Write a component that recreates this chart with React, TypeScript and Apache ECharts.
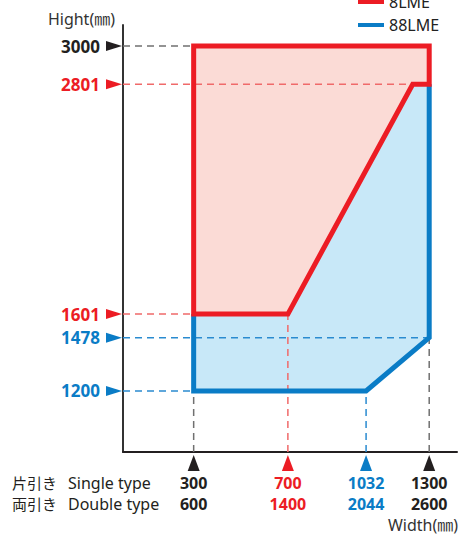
import React, { useEffect, useRef } from 'react';
import * as echarts from 'echarts';

// ---- data ----
const seriesNames = ['8LME', '88LME'];

const yMarkValues = [3000, 2801, 1601, 1478, 1200];
const yMarkModel = ['both', '8LME', '8LME', '88LME', '88LME'];
const yGuideEndWidth = [300, 1230, 300, 1300, 300];

const singleWidths = [300, 700, 1032, 1300];
const doubleWidths = [600, 1400, 2044, 2600];
const xMarkModel = ['both', '8LME', '88LME', 'both'];
const xGuideEndHeight = [1200, 1601, 1200, 1478];

const redWidths = [300, 300, 1300, 1300, 1230, 700];
const redHeights = [1601, 3000, 3000, 2801, 2801, 1601];
const blueWidths = [300, 300, 1032, 1300, 1300, 1230, 700];
const blueHeights = [1601, 1200, 1200, 1478, 2801, 2801, 1601];

const rowLabelsJa = ['片引き', '両引き'];
const rowLabelsEn = ['Single type', 'Double type'];

// ---- styles ----
const X_MIN = 0;
const X_MAX = 1418;
const Y_MIN = 881;
const Y_MAX = 3110;

const RED = '#EC1C24';
const BLUE = '#0A7CC6';
const DARK = '#231F20';
const RED_FILL = '#FBDBD6';
const BLUE_FILL = '#C8E8F8';
const RED_GUIDE = '#F06A6A';
const BLUE_GUIDE = '#2A8BD0';
const GREY_GUIDE = '#707070';
const FONT = '"Noto Sans", "Noto Sans CJK JP", sans-serif';
const ROW_H = 21;

const keyOf = (m: string) => (m === '8LME' ? 'r' : m === '88LME' ? 'b' : 'k');
const colorOf = (m: string) => (m === '8LME' ? RED : m === '88LME' ? BLUE : DARK);
const guideOf = (m: string) => (m === '8LME' ? RED_GUIDE : m === '88LME' ? BLUE_GUIDE : GREY_GUIDE);

const redPts = redWidths.map((w, i) => [w, redHeights[i]]);
const bluePts = blueWidths.map((w, i) => [w, blueHeights[i]]);
const blueOutline = bluePts.slice(0, 5);

const numRich = (size: number, lh?: number) => ({
  r: { color: RED, fontSize: size, fontWeight: 'bold', fontFamily: FONT, lineHeight: lh },
  b: { color: BLUE, fontSize: size, fontWeight: 'bold', fontFamily: FONT, lineHeight: lh },
  k: { color: DARK, fontSize: size, fontWeight: 'bold', fontFamily: FONT, lineHeight: lh },
});

function shapeSeries(name: string, points: number[][], kind: string, style: any, z: number, color: string) {
  return {
    type: 'custom',
    name,
    z,
    silent: true,
    itemStyle: { color },
    data: points,
    encode: { x: 0, y: 1 },
    renderItem: (params: any, api: any) => {
      if (params.dataIndex !== 0) return null;
      const p = points.map((pt) => api.coord(pt));
      return { type: kind, shape: { points: p }, style };
    },
  };
}

export default function App() {
  const ref = useRef<HTMLDivElement>(null);
  useEffect(() => {
    if (!ref.current) return;
    const chart = echarts.init(ref.current, undefined, { renderer: 'svg' });
    const option: any = {
      animation: false,
      backgroundColor: '#ffffff',
      grid: { left: 123, top: 25, width: 334, height: 427, outerBoundsMode: 'none', containLabel: false },
      legend: {
        data: [
          { name: seriesNames[0], itemStyle: { color: RED } },
          { name: seriesNames[1], itemStyle: { color: BLUE } },
        ],
        orient: 'vertical',
        left: 358,
        top: -8,
        itemWidth: 26,
        itemHeight: 4,
        itemGap: 3,
        icon: 'rect',
        padding: 0,
        selectedMode: false,
        textStyle: { fontSize: 16, color: '#222', lineHeight: 20, fontFamily: FONT },
      },
      xAxis: {
        type: 'value',
        min: X_MIN,
        max: X_MAX,
        splitLine: { show: false },
        axisTick: { show: false },
        axisLine: { show: true, onZero: false, lineStyle: { color: DARK, width: 2 } },
        axisLabel: {
          customValues: singleWidths,
          margin: 20,
          lineHeight: ROW_H,
          formatter: (v: number) => {
            const i = singleWidths.indexOf(v);
            const k = keyOf(xMarkModel[i]);
            return `{${k}|${v}}\n{${k}|${doubleWidths[i]}}`;
          },
          rich: numRich(16, ROW_H),
        },
      },
      yAxis: {
        type: 'value',
        min: Y_MIN,
        max: Y_MAX,
        name: 'Hight(㎜)',
        nameLocation: 'end',
        nameGap: 6,
        nameTextStyle: {
          align: 'right',
          verticalAlign: 'middle',
          padding: [0, 8, 0, 0],
          fontSize: 16,
          color: '#333',
          fontFamily: FONT,
        },
        splitLine: { show: false },
        axisTick: { show: false },
        axisLine: { show: true, onZero: false, lineStyle: { color: '#333', width: 2 } },
        axisLabel: {
          customValues: yMarkValues,
          margin: 23,
          formatter: (v: number) => {
            const i = yMarkValues.indexOf(v);
            return `{${keyOf(yMarkModel[i])}|${v}}`;
          },
          rich: numRich(17),
        },
      },
      graphic: [
        ...rowLabelsJa.map((t, i) => ({
          type: 'text',
          x: 12,
          y: 483 + i * ROW_H,
          style: { text: t, fontSize: 15, fill: DARK, fontFamily: FONT, align: 'left', verticalAlign: 'middle' },
        })),
        ...rowLabelsEn.map((t, i) => ({
          type: 'text',
          x: 68,
          y: 483 + i * ROW_H,
          style: { text: t, fontSize: 16, fill: DARK, fontFamily: FONT, align: 'left', verticalAlign: 'middle' },
        })),
        {
          type: 'text',
          x: 458,
          y: 525,
          style: { text: 'Width(㎜)', fontSize: 16, fill: '#333', fontFamily: FONT, align: 'right', verticalAlign: 'middle' },
        },
      ],
      series: [
        shapeSeries('88LME fill', bluePts, 'polygon', { fill: BLUE_FILL, stroke: 'none' }, 1, BLUE_FILL),
        shapeSeries('8LME fill', redPts, 'polygon', { fill: RED_FILL, stroke: 'none' }, 1, RED_FILL),
        {
          type: 'custom',
          name: 'y guides',
          z: 2,
          silent: true,
          data: yMarkValues.map((v, i) => [yGuideEndWidth[i], v]),
          encode: { x: 0, y: 1 },
          renderItem: (params: any, api: any) => {
            const v = api.value(1);
            const a = api.coord([X_MIN, v]);
            const b = api.coord([api.value(0), v]);
            return {
              type: 'line',
              shape: { x1: a[0], y1: a[1], x2: b[0], y2: b[1] },
              style: { stroke: guideOf(yMarkModel[params.dataIndex]), lineWidth: 1.5, lineDash: [7, 5] },
            };
          },
        },
        {
          type: 'custom',
          name: 'x guides',
          z: 2,
          silent: true,
          data: singleWidths.map((w, i) => [w, xGuideEndHeight[i]]),
          encode: { x: 0, y: 1 },
          renderItem: (params: any, api: any) => {
            const w = api.value(0);
            const a = api.coord([w, Y_MIN]);
            const b = api.coord([w, api.value(1)]);
            return {
              type: 'line',
              shape: { x1: a[0], y1: a[1], x2: b[0], y2: b[1] },
              style: { stroke: guideOf(xMarkModel[params.dataIndex]), lineWidth: 1.5, lineDash: [7, 5] },
            };
          },
        },
        shapeSeries(seriesNames[1], blueOutline, 'polyline', { fill: 'none', stroke: BLUE, lineWidth: 5 }, 3, BLUE),
        shapeSeries(seriesNames[0], redPts, 'polygon', { fill: 'none', stroke: RED, lineWidth: 5 }, 4, RED),
        {
          type: 'custom',
          name: 'y markers',
          z: 5,
          silent: true,
          data: yMarkValues.map((v) => [X_MIN, v]),
          encode: { x: 0, y: 1 },
          renderItem: (params: any, api: any) => {
            const c = api.coord([api.value(0), api.value(1)]);
            return {
              type: 'polygon',
              shape: { points: [[c[0] - 1, c[1]], [c[0] - 17, c[1] - 5], [c[0] - 17, c[1] + 5]] },
              style: { fill: colorOf(yMarkModel[params.dataIndex]) },
            };
          },
        },
        {
          type: 'custom',
          name: 'x markers',
          z: 5,
          silent: true,
          data: singleWidths.map((w) => [w, Y_MIN]),
          encode: { x: 0, y: 1 },
          renderItem: (params: any, api: any) => {
            const c = api.coord([api.value(0), api.value(1)]);
            return {
              type: 'polygon',
              shape: { points: [[c[0], c[1] + 3], [c[0] - 6, c[1] + 19], [c[0] + 6, c[1] + 19]] },
              style: { fill: colorOf(xMarkModel[params.dataIndex]) },
            };
          },
        },
      ],
    };
    chart.setOption(option);
    return () => chart.dispose();
  }, []);
  return (
    <div
      ref={ref}
      style={{ position: 'fixed', left: 0, top: 0, width: 464, height: 535, background: '#fff' }}
    />
  );
}
